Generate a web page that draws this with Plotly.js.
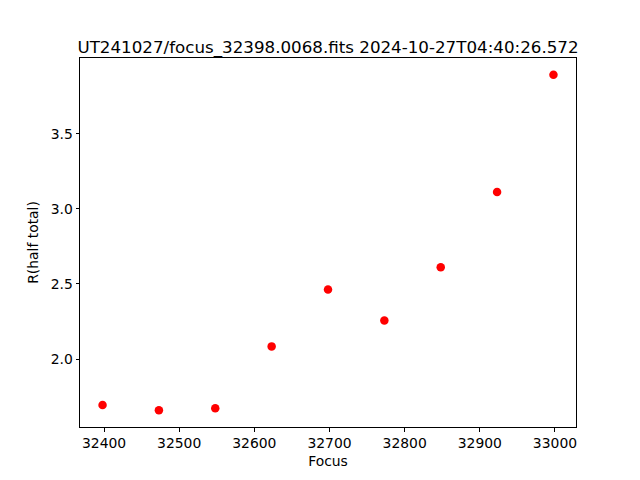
<!DOCTYPE html>
<html>
<head>
<meta charset="utf-8">
<script src="https://cdn.plot.ly/plotly-3.0.1.min.js"></script>
<style>html,body{margin:0;padding:0;background:#fff;}#chart{width:640px;height:480px;}</style>
</head>
<body>
<div id="chart"></div>
<script>
const focusValues = [32398, 32473, 32548, 32623, 32698, 32773, 32848, 32923, 32998];
const radiusValues = [1.694, 1.659, 1.672, 2.084, 2.463, 2.257, 2.611, 3.112, 3.892];
const xTicks = [32400, 32500, 32600, 32700, 32800, 32900, 33000];
const yTicks = [2.0, 2.5, 3.0, 3.5];
const yTickLabels = ['2.0', '2.5', '3.0', '3.5'];
const chartTitle = 'UT241027/focus_32398.0068.fits 2024-10-27T04:40:26.572';

function padRange(arr) {
  const mn = Math.min(...arr), mx = Math.max(...arr);
  const p = (mx - mn) * 0.05;
  return [mn - p, mx + p];
}

const font = {family: 'DejaVu Sans, sans-serif', size: 13.9, color: '#000'};

const trace = {
  x: focusValues, y: radiusValues,
  type: 'scatter', mode: 'markers',
  marker: {color: '#ff0000', size: 8.5, line: {width: 0}},
  hoverinfo: 'none'
};

const axisCommon = {
  showgrid: false, zeroline: false,
  showline: true, linecolor: '#000', linewidth: 1, mirror: true,
  ticks: 'outside', ticklen: 3.5, tickwidth: 1, tickcolor: '#000',
  tickfont: font
};

const layout = {
  width: 640, height: 480,
  margin: {l: 80, r: 64, t: 58, b: 53, pad: 0},
  paper_bgcolor: '#fff', plot_bgcolor: '#fff',
  font: font,
  showlegend: false,
  title: {
    text: chartTitle,
    font: {family: 'DejaVu Sans, sans-serif', size: 16.7, color: '#000'},
    xref: 'paper', x: 0.5, xanchor: 'center',
    yref: 'paper', y: 1, yanchor: 'bottom',
    pad: {b: 5}
  },
  xaxis: Object.assign({}, axisCommon, {
    range: padRange(focusValues),
    tickvals: xTicks, ticktext: xTicks.map(String),
    title: {text: 'Focus', font: font, standoff: 6}
  }),
  yaxis: Object.assign({}, axisCommon, {
    range: padRange(radiusValues),
    tickvals: yTicks, ticktext: yTickLabels,
    title: {text: 'R(half total)', font: font, standoff: 8}
  })
};

Plotly.newPlot('chart', [trace], layout, {displayModeBar: false, staticPlot: true});
</script>
</body>
</html>
